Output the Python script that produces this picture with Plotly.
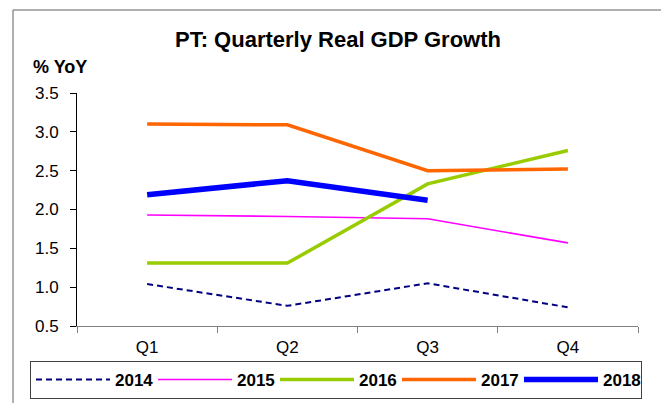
import plotly.graph_objects as go

quarters = ["Q1", "Q2", "Q3", "Q4"]
years = ["2014", "2015", "2016", "2017", "2018"]
v2014 = [1.04, 0.76, 1.05, 0.74]
v2015 = [1.93, 1.91, 1.88, 1.57]
v2016 = [1.31, 1.31, 2.33, 2.76]
v2017 = [3.10, 3.09, 2.50, 2.52]
v2018 = [2.19, 2.37, 2.12]

series = [v2014, v2015, v2016, v2017, v2018]
colors = ["#000080", "#FF00FF", "#99CC00", "#FF6600", "#0000FF"]
widths = [2, 1.6, 3.5, 3.5, 5.5]
dashes = ["6px,4px", "solid", "solid", "solid", "solid"]

FONT = "Liberation Sans, Arial, sans-serif"

fig = go.Figure()
for name, vals, c, w, d in zip(years, series, colors, widths, dashes):
    fig.add_trace(go.Scatter(
        x=quarters[:len(vals)], y=vals, name=name, mode="lines",
        line=dict(color=c, width=w, dash=d)))

OFF = 8  # page body margin
PAGE_W, PAGE_H = 669, 403
W, H = PAGE_W - OFF, PAGE_H - OFF
# plot area in page px
PX0, PX1, PY0, PY1 = 77, 638, 93, 326
L = PX0 - OFF
R = W - (PX1 - OFF)
T = PY0 - OFF
B = H - (PY1 - OFF)
pw, ph = W - L - R, H - T - B

def px(p):
    return (p - OFF - L) / pw

def py(p):
    return (H - B - (p - OFF)) / ph

fig.add_shape(type="rect", xref="paper", yref="paper",
              x0=px(13), x1=px(662), y0=py(410), y1=py(10),
              line=dict(color="#606060", width=1), layer="below")

fig.add_annotation(text="<b>% YoY</b>", xref="paper", yref="paper",
                   x=px(31), y=py(67), xanchor="left", yanchor="middle",
                   showarrow=False, font=dict(family=FONT, size=18, color="black"))

fig.update_layout(
    width=W, height=H,
    margin=dict(l=L, r=R, t=T, b=B, pad=0, autoexpand=False),
    paper_bgcolor="white", plot_bgcolor="white",
    title=dict(text="<b>PT: Quarterly Real GDP Growth</b>",
               x=(338 - OFF) / W, xanchor="center",
               y=1 - (39 - OFF) / H, yanchor="middle",
               font=dict(family=FONT, size=22, color="black")),
    font=dict(family=FONT, size=17, color="black"),
    showlegend=True,
    legend=dict(orientation="h", x=px(30), xanchor="left",
                y=py(380), yanchor="middle",
                bordercolor="#404040", borderwidth=1, bgcolor="white",
                font=dict(family=FONT, size=17, color="black", weight="bold"),
                traceorder="normal", itemwidth=74,
                entrywidth=33, entrywidthmode="pixels"),
    xaxis=dict(showgrid=False, showline=True, linecolor="#808080", linewidth=1,
               ticks="outside", tickson="boundaries", ticklen=6, tickcolor="#808080",
               ticklabelstandoff=6,
               tickfont=dict(size=17), zeroline=False, range=[-0.5, 3.5]),
    yaxis=dict(range=[0.5, 3.5], dtick=0.5, tickformat=".1f", showgrid=False,
               showline=True, linecolor="black", linewidth=1, ticks="outside",
               ticklen=6, tickcolor="black", ticklabelstandoff=8,
               tickfont=dict(size=17), zeroline=False),
)

fig.write_html("out.html")
